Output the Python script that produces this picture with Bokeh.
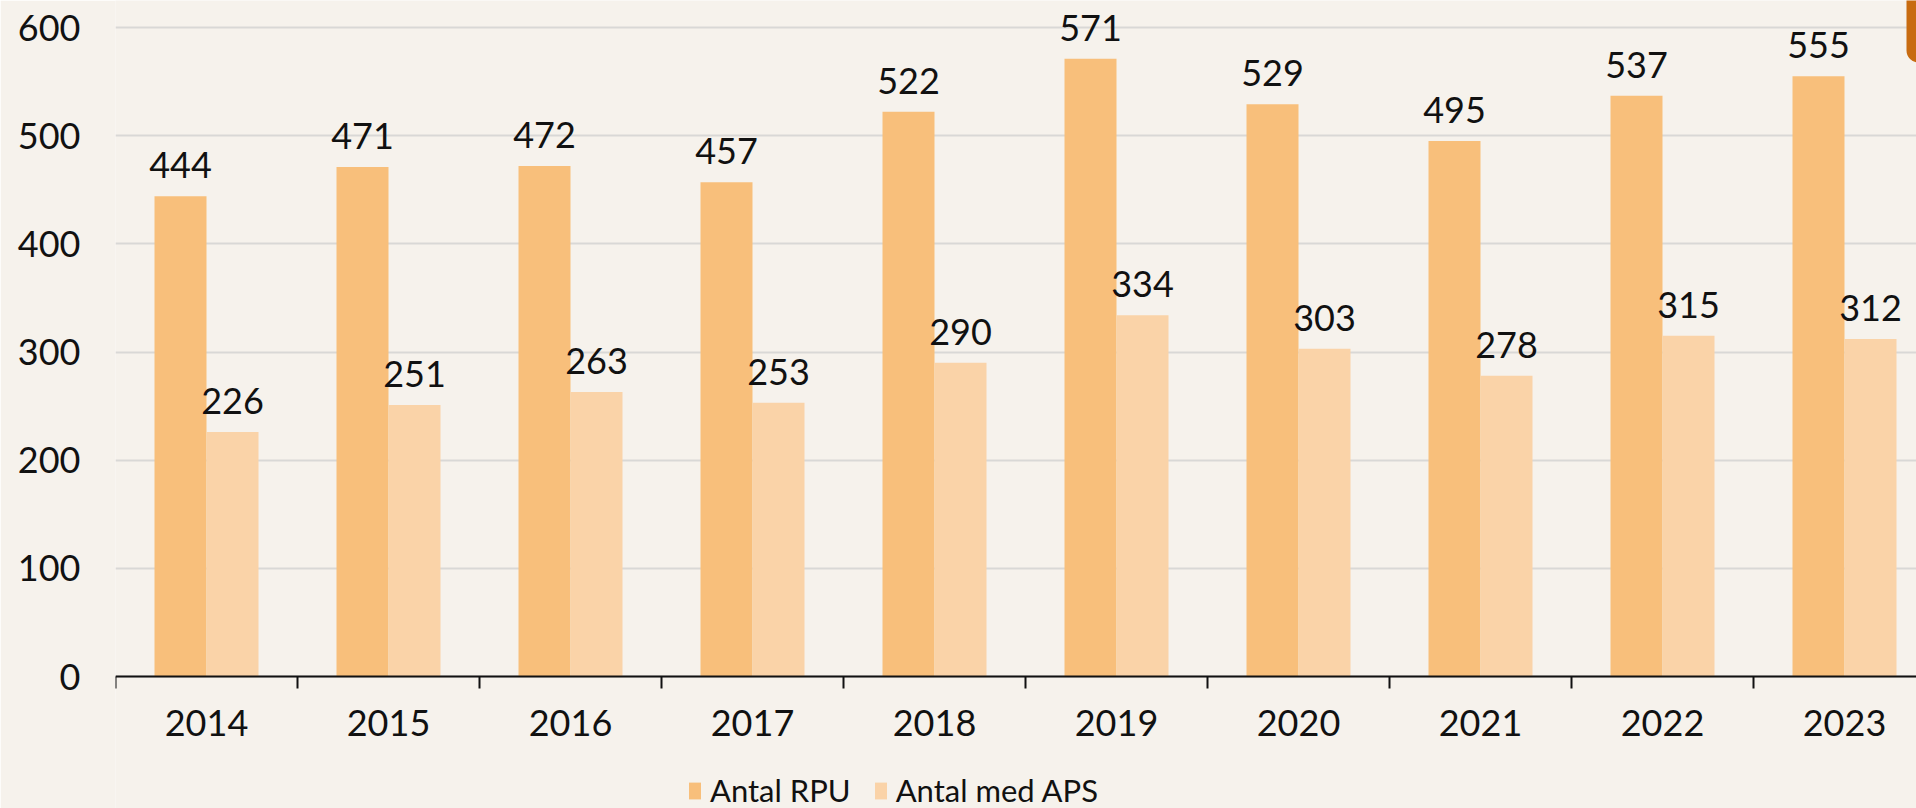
import numpy as np
from bokeh.plotting import figure
from bokeh.models import (ColumnDataSource, Range1d, FixedTicker, Legend, LegendItem,
                          BoxAnnotation, Span)
from bokeh.core.properties import value
from bokeh.embed import file_html
from bokeh.resources import INLINE

years = ["2014", "2015", "2016", "2017", "2018", "2019", "2020", "2021", "2022", "2023"]
antal_rpu = [444, 471, 472, 457, 522, 571, 529, 495, 537, 555]
antal_aps = [226, 251, 263, 253, 290, 334, 303, 278, 315, 312]
y_ticks = [0, 100, 200, 300, 400, 500, 600]
series_names = ["Antal RPU", "Antal med APS"]

FONT = "Lato"
BG = "#F6F2EC"
C_RPU = "#F8BF7B"
C_APS = "#FAD3A8"
INK = "#111111"

PX_PER_UNIT = 649 / 600.0      # vertical scale (pixels per value unit)
TICK_LEN = 12 / PX_PER_UNIT    # category tick length in value units

idx = np.arange(len(years))
bar_w = 0.2857
src = ColumnDataSource(dict(
    x_rpu=idx + 0.5 - bar_w / 2,
    x_aps=idx + 0.5 + bar_w / 2,
    xc=idx + 0.5,
    zero=np.zeros(len(years)),
    year=years,
    rpu=antal_rpu,
    aps=antal_aps,
    rpu_txt=[str(v) for v in antal_rpu],
    aps_txt=[str(v) for v in antal_aps],
))
bounds = np.arange(len(years) + 1)
tick_src = ColumnDataSource(dict(x=bounds, y0=np.zeros(len(bounds)),
                                 y1=np.full(len(bounds), -TICK_LEN)))

p = figure(frame_width=1801, frame_height=808, output_backend="svg", toolbar_location=None,
           x_range=Range1d(0, 1801 / 182.0),
           y_range=Range1d(-132 / PX_PER_UNIT, 676 / PX_PER_UNIT),
           x_axis_location=None,
           min_border_left=115, min_border_right=0, min_border_top=0,
           min_border_bottom=0)
p.background_fill_color = BG
p.border_fill_color = BG
p.outline_line_color = None

r1 = p.vbar(x="x_rpu", top="rpu", width=bar_w, source=src, fill_color=C_RPU, line_color=None)
r2 = p.vbar(x="x_aps", top="aps", width=bar_w, source=src, fill_color=C_APS, line_color=None)

for xcol, ycol, tcol in (("x_rpu", "rpu", "rpu_txt"), ("x_aps", "aps", "aps_txt")):
    p.text(x=xcol, y=ycol, text=tcol, source=src, text_align="center",
           text_baseline="alphabetic", y_offset=-31, text_font=value(FONT),
           text_font_size="36px", text_color=INK)

# y axis
p.yaxis.ticker = FixedTicker(ticks=y_ticks)
p.yaxis.axis_line_color = None
p.yaxis.major_tick_line_color = None
p.yaxis.minor_tick_line_color = None
p.yaxis.major_tick_out = 0
p.yaxis.major_label_standoff = 35
p.yaxis.major_label_text_font = FONT
p.yaxis.major_label_text_font_size = "36px"
p.yaxis.major_label_text_color = INK

p.ygrid.ticker = FixedTicker(ticks=y_ticks)
p.ygrid.grid_line_color = "#D9D8D6"
p.ygrid.grid_line_width = 2
p.xgrid.grid_line_color = None

# category axis (line at 0, ticks at category boundaries, year labels at centers)
p.add_layout(Span(location=0, dimension="width", line_color=INK, line_width=2))
p.segment(x0="x", y0="y0", x1="x", y1="y1", source=tick_src, line_color=INK, line_width=2)
p.text(x="xc", y="zero", text="year", source=src, text_align="center",
       text_baseline="alphabetic", y_offset=46, text_font=value(FONT),
       text_font_size="36px", text_color=INK)

legend = Legend(items=[LegendItem(label=series_names[0], renderers=[r1]),
                       LegendItem(label=series_names[1], renderers=[r2])],
                orientation="horizontal", location=(572, -1),
                glyph_width=15, glyph_height=21, label_standoff=8, spacing=22,
                padding=0, margin=0, border_line_color=None,
                background_fill_alpha=0,
                label_text_font=FONT, label_text_font_size="31px",
                label_text_color=INK)
p.add_layout(legend, "center")

p.add_layout(BoxAnnotation(left=1791 / 182.0, right=2000 / 182.0,
                           bottom=(676 - 62) / PX_PER_UNIT, top=700,
                           fill_color="#C86B10", fill_alpha=1, line_color=None,
                           border_radius=12))

open("out.html", "w").write(file_html(p, INLINE))
